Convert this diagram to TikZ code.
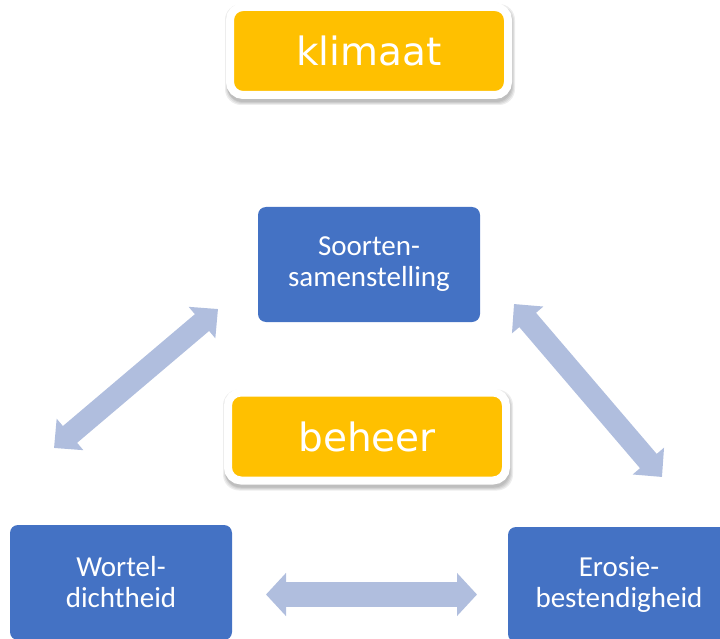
\documentclass[tikz,border=0pt]{standalone}
\usepackage{fontspec}
\setmainfont{Carlito}
\newfontfamily\dvsans{DejaVu Sans}
\usetikzlibrary{arrows.meta}
\pgfdeclarelayer{bg}
\pgfsetlayers{bg,main}
\definecolor{boxblue}{RGB}{68,114,196}
\definecolor{boxyellow}{RGB}{255,192,0}
\definecolor{arrowblue}{RGB}{176,190,222}
\tikzset{
  bluebox/.style={fill=boxblue, draw=none, rounded corners=8pt, minimum width=222pt, minimum height=115pt,
    text=white, align=center, font=\fontsize{29}{31}\selectfont, inner sep=0pt},
  yellowbox/.style={fill=boxyellow, draw=white, line width=8pt, rounded corners=13pt,
    minimum width=278pt, minimum height=88pt, text=white, font=\dvsans\fontsize{39}{44}\selectfont,
    inner sep=0pt},
  softshadow/.style={fill=black, opacity=0.07, rounded corners=16pt},
  dblarrow/.style={draw=arrowblue, line width=22pt,
    {Triangle[length=21pt,width=40pt]}-{Triangle[length=21pt,width=40pt]}},
  harrow/.style={draw=arrowblue, line width=25pt,
    {Triangle[length=20pt,width=42pt]}-{Triangle[length=20pt,width=42pt]}}
}
\newcommand{\boxshadow}[1]{%
  \begin{pgfonlayer}{bg}
  \fill[softshadow] ([shift={(-1,1)}]#1.north west) rectangle ([shift={(3,6)}]#1.south east);
  \fill[softshadow] ([shift={(0,2)}]#1.north west) rectangle ([shift={(2,5)}]#1.south east);
  \fill[softshadow] ([shift={(1,3)}]#1.north west) rectangle ([shift={(1,4)}]#1.south east);
  \fill[softshadow] ([shift={(1,3)}]#1.north west) rectangle ([shift={(0,3)}]#1.south east);
  \end{pgfonlayer}}
\begin{document}
\begin{tikzpicture}[x=1pt,y=-1pt]
\useasboundingbox (0,0) rectangle (720,639);
\clip (0,0) rectangle (720,639);
\node[yellowbox] (klimaat) at (369,51) {klimaat};
\node[yellowbox] (beheer) at (367,436.5) {beheer};
\boxshadow{klimaat}
\boxshadow{beheer}
\node[bluebox] (soorten) at (369,264.5) {Soorten-\\samenstelling};
\node[bluebox] (wortel) at (121,582.5) {Wortel-\\dichtheid};
\node[bluebox] (erosie) at (619,584.5) {Erosie-\\bestendigheid};
\coordinate (l1) at (54,448);
\coordinate (l2) at (218,309);
\coordinate (r1) at (514,304);
\coordinate (r2) at (662,477);
\coordinate (h1) at (266,594.5);
\coordinate (h2) at (477,594.5);
\draw[dblarrow] (l1) -- (l2);
\draw[dblarrow] (r1) -- (r2);
\draw[harrow] (h1) -- (h2);
\end{tikzpicture}
\end{document}
